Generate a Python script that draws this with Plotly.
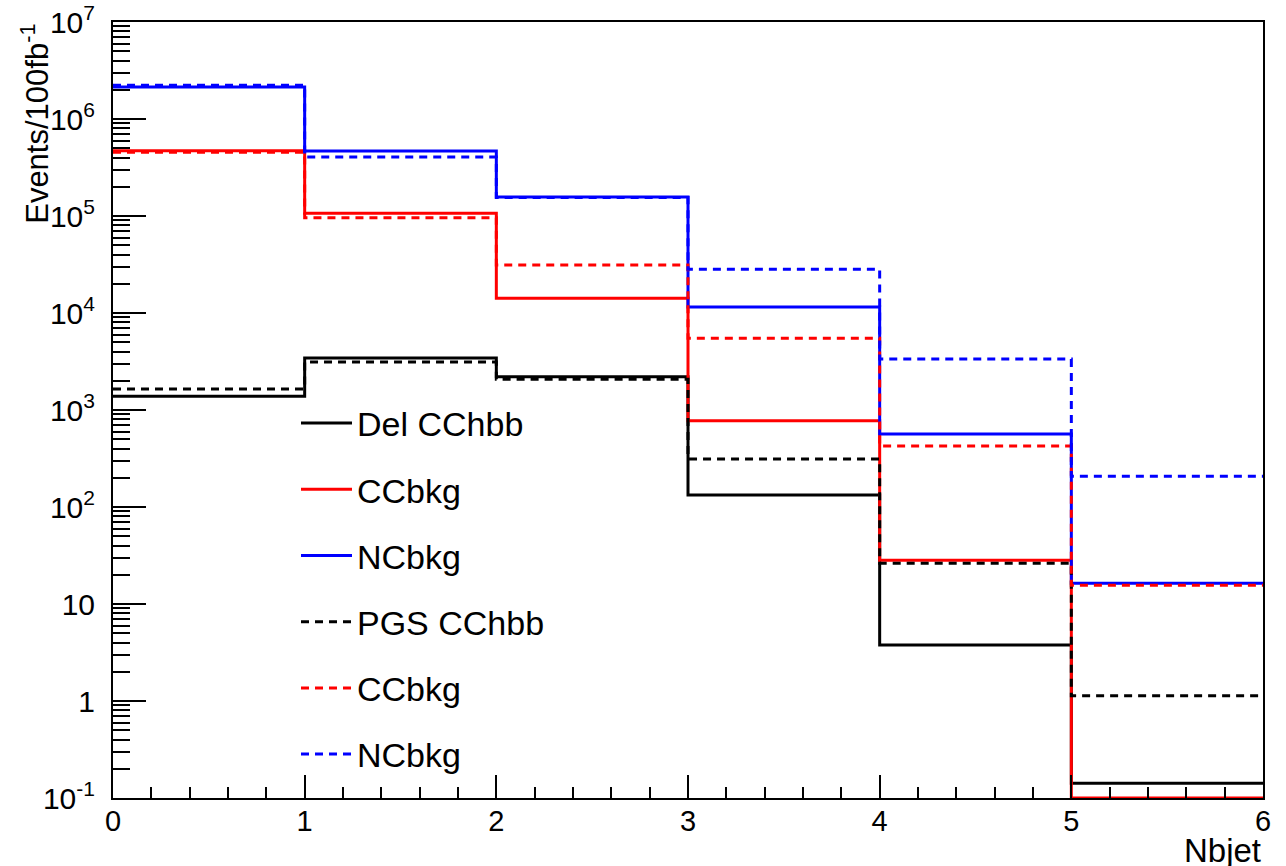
import plotly.graph_objects as go

# Bin edges (Nbjet)
edges = [0, 1, 2, 3, 4, 5, 6]

# Events/100fb^-1 per bin
del_cchbb = [1390, 3440, 2200, 133, 3.78, 0.142]
del_ccbkg = [4.7e5, 1.07e5, 1.42e4, 777, 28.2, 0.1]
del_ncbkg = [2.14e6, 4.67e5, 1.57e5, 1.15e4, 566, 16.4]
pgs_cchbb = [1650, 3130, 2070, 313, 26.3, 1.13]
pgs_ccbkg = [4.55e5, 9.6e4, 3.13e4, 5480, 425, 15.6]
pgs_ncbkg = [2.23e6, 4.06e5, 1.55e5, 2.82e4, 3360, 207]

names = ["Del CChbb", "CCbkg", "NCbkg", "PGS CChbb", "CCbkg", "NCbkg"]
series = [del_cchbb, del_ccbkg, del_ncbkg, pgs_cchbb, pgs_ccbkg, pgs_ncbkg]
colors = ["black", "#ff0000", "#0000ff", "black", "#ff0000", "#0000ff"]
dashes = ["solid", "solid", "solid", "8px,6px", "8px,6px", "8px,6px"]

ytick_vals = [1e-1, 1, 10, 1e2, 1e3, 1e4, 1e5, 1e6, 1e7]
ytick_text = ["10<sup>-1</sup>", "1", "10", "10<sup>2</sup>", "10<sup>3</sup>",
              "10<sup>4</sup>", "10<sup>5</sup>", "10<sup>6</sup>", "10<sup>7</sup>"]
xtick_vals = [0, 1, 2, 3, 4, 5, 6]

FONT = "Liberation Sans, Arial, Helvetica, sans-serif"

fig = go.Figure()
for i, (nm, vals, c, d) in enumerate(zip(names, series, colors, dashes)):
    fig.add_trace(go.Scatter(
        x=edges, y=list(vals) + [vals[-1]],
        mode="lines", line=dict(shape="hv", color=c, width=3, dash=d),
        name=nm, legendgroup=str(i), showlegend=True,
    ))

minor_y = [m * 10 ** k for k in range(-1, 7) for m in range(2, 10)]
minor_x = [i + f / 5 for i in range(6) for f in range(1, 5)]

fig.update_layout(
    width=1286, height=866,
    margin=dict(l=113, r=23, t=22, b=68, autoexpand=False),
    paper_bgcolor="white", plot_bgcolor="white",
    font=dict(family=FONT, color="black"),
    legend=dict(x=(296 - 113) / 1150, y=0.52, xanchor="left", yanchor="top",
                font=dict(size=34, family=FONT, color="black"),
                bgcolor="rgba(0,0,0,0)", tracegroupgap=19, itemwidth=51),
)
fig.update_xaxes(
    range=[0, 6], tickvals=xtick_vals, ticks="inside", ticklen=23, tickwidth=1.5,
    tickcolor="black", showgrid=False, zeroline=False, showline=True,
    linecolor="black", linewidth=2, mirror=True, automargin=False,
    ticklabelstandoff=-4,
    tickfont=dict(size=29, family=FONT, color="black"),
    minor=dict(tickvals=minor_x, ticks="inside", ticklen=11, tickwidth=1.5,
               tickcolor="black", showgrid=False),
)
fig.update_yaxes(
    type="log", range=[-1, 7], tickvals=ytick_vals, ticktext=ytick_text,
    ticks="inside", ticklen=33, tickwidth=1.5, tickcolor="black",
    showgrid=False, zeroline=False, showline=True, linecolor="black",
    linewidth=2, mirror=True, ticklabelstandoff=10, automargin=False,
    tickfont=dict(size=30, family=FONT, color="black"),
    minor=dict(tickvals=minor_y, ticks="inside", ticklen=17, tickwidth=1.5,
               tickcolor="black", showgrid=False),
)
fig.add_annotation(text="Events/100fb<sup>-1</sup>", textangle=-90,
                   xref="paper", yref="paper", x=-0.068, y=1.0,
                   xanchor="center", yanchor="top", showarrow=False,
                   font=dict(size=31, family=FONT, color="black"))
fig.add_annotation(text="Nbjet", xref="paper", yref="paper", x=1.0, y=-0.041,
                   xanchor="right", yanchor="top", showarrow=False,
                   font=dict(size=33, family=FONT, color="black"))

fig.write_html("out.html")
